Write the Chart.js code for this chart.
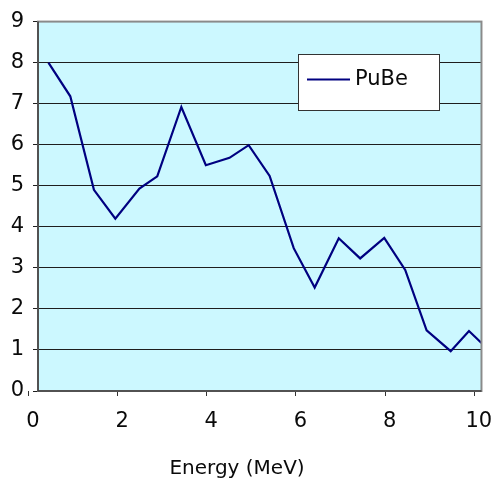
<!DOCTYPE html>
<html>
<head>
<meta charset="utf-8">
<script src="https://cdn.jsdelivr.net/npm/chart.js@4/dist/chart.umd.min.js"></script>
<style>
  html, body { margin: 0; padding: 0; background: #ffffff; }
  #c { display: block; }
</style>
</head>
<body>
<canvas id="c" width="501" height="478"></canvas>
<script>
// PuBe neutron source spectrum
const energy = [0.45, 0.94, 1.47, 1.95, 2.49, 2.89, 3.43, 3.98, 4.51, 4.94, 5.41,
                5.95, 6.42, 6.96, 7.44, 7.98, 8.45, 8.93, 9.47, 9.88, 10.16];
const pube   = [8.00, 7.18, 4.90, 4.20, 4.93, 5.23, 6.92, 5.50, 5.68, 5.99, 5.24,
                3.48, 2.52, 3.72, 3.23, 3.73, 2.95, 1.48, 0.97, 1.46, 1.17];
const xTicks = [0, 2, 4, 6, 8, 10];
const yTicks = [0, 1, 2, 3, 4, 5, 6, 7, 8, 9];
const seriesName = 'PuBe';
const xAxisTitle = 'Energy (MeV)';

const FONT = 'DejaVu Sans, Verdana, sans-serif';
const LINE_COLOR = '#000080';

// plot background, frame, legend box and axis title
const decor = {
  id: 'decor',
  beforeDraw(chart) {
    const { ctx, chartArea: a } = chart;
    ctx.save();
    ctx.fillStyle = '#ccf8ff';
    ctx.fillRect(a.left, a.top, a.right - a.left, a.bottom - a.top);
    ctx.restore();
  },
  afterDraw(chart) {
    const { ctx, chartArea: a } = chart;
    ctx.save();
    // outer frame
    ctx.strokeStyle = '#8a8a8a';
    ctx.lineWidth = 2;
    ctx.strokeRect(a.left, a.top, a.right - a.left, a.bottom - a.top);
    // axis lines
    ctx.strokeStyle = '#404040';
    ctx.lineWidth = 1.5;
    ctx.beginPath();
    ctx.moveTo(a.left, a.top);
    ctx.lineTo(a.left, a.bottom);
    ctx.lineTo(a.right, a.bottom);
    ctx.stroke();

    // legend
    const lx = 298.5, ly = 54.5, lw = 141, lh = 56;
    ctx.fillStyle = '#ffffff';
    ctx.fillRect(lx, ly, lw, lh);
    ctx.strokeStyle = '#333333';
    ctx.lineWidth = 1;
    ctx.strokeRect(lx, ly, lw, lh);
    const ds = chart.data.datasets[0];
    ctx.strokeStyle = ds.borderColor;
    ctx.lineWidth = 2;
    ctx.beginPath();
    ctx.moveTo(307, 79.5);
    ctx.lineTo(350, 79.5);
    ctx.stroke();
    ctx.fillStyle = '#0a0a0a';
    ctx.font = '21px ' + FONT;
    ctx.textAlign = 'left';
    ctx.textBaseline = 'middle';
    ctx.fillText(ds.label, 355, 80);

    // x axis title
    ctx.font = '20px ' + FONT;
    ctx.textAlign = 'center';
    ctx.textBaseline = 'alphabetic';
    ctx.fillText(xAxisTitle, 237, 473.5);
    ctx.restore();
  }
};

new Chart(document.getElementById('c'), {
  type: 'line',
  data: {
    datasets: [{
      label: seriesName,
      data: energy.map((e, i) => ({ x: e, y: pube[i] })),
      borderColor: LINE_COLOR,
      backgroundColor: LINE_COLOR,
      borderWidth: 2.2,
      pointRadius: 0,
      tension: 0,
      fill: false
    }]
  },
  options: {
    responsive: false,
    animation: false,
    devicePixelRatio: 1,
    layout: { padding: { top: 20, right: 19, left: 0, bottom: 0 } },
    plugins: { legend: { display: false }, tooltip: { enabled: false } },
    scales: {
      x: {
        type: 'linear',
        min: 0.216,
        max: 10.16,
        afterBuildTicks: s => { s.ticks = xTicks.map(v => ({ value: v })); },
        afterFit: s => { s.height = 87; },
        border: { display: false },
        grid: { drawOnChartArea: false, drawTicks: true, tickLength: 5, color: '#333333', lineWidth: 1 },
        ticks: {
          autoSkip: false, maxRotation: 0, padding: 13, labelOffset: 4.5,
          color: '#0a0a0a', font: { family: FONT, size: 21 }
        }
      },
      y: {
        type: 'linear',
        min: 0,
        max: 9,
        afterBuildTicks: s => { s.ticks = yTicks.map(v => ({ value: v })); },
        afterFit: s => { s.width = 38; },
        border: { display: false },
        grid: { drawOnChartArea: true, drawTicks: true, tickLength: 5, color: '#1e1e1e', lineWidth: 1 },
        ticks: {
          autoSkip: false, padding: 9,
          color: '#0a0a0a', font: { family: FONT, size: 21 }
        }
      }
    }
  },
  plugins: [decor]
});
</script>
</body>
</html>
